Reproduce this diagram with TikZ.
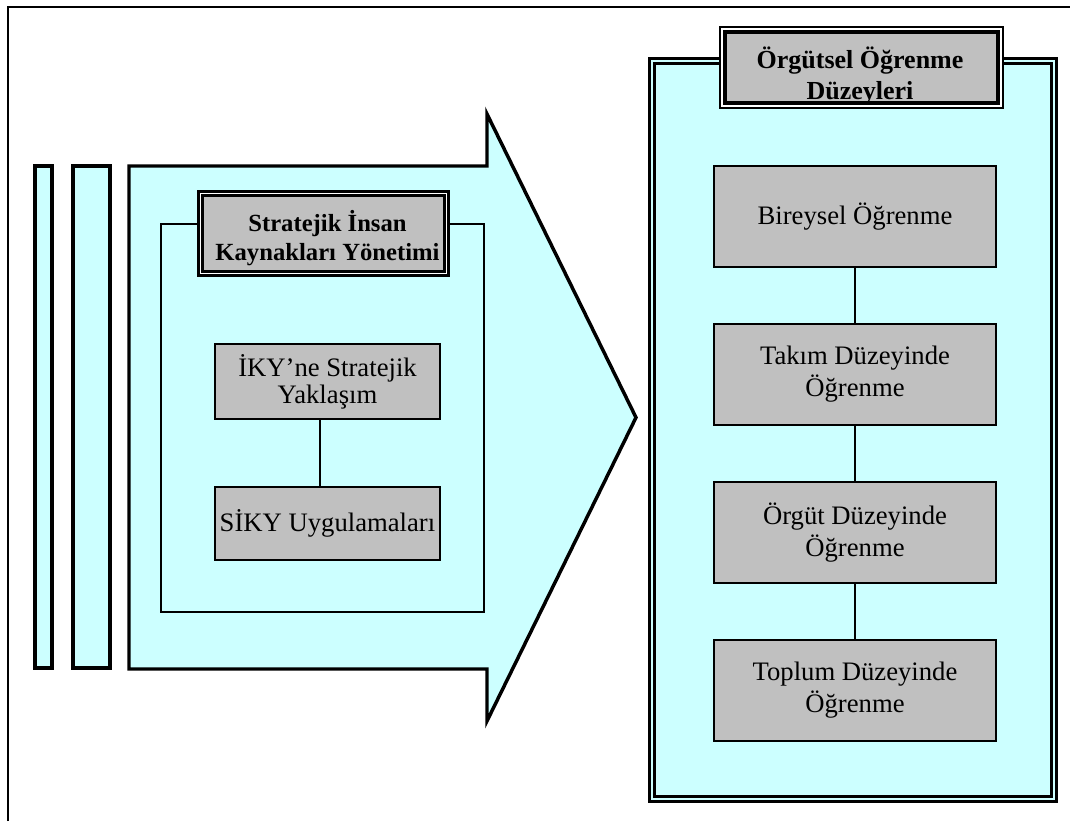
\documentclass[tikz,border=0pt]{standalone}
\usepackage{fontspec}
\setmainfont{Liberation Serif}
\definecolor{aqua}{HTML}{CCFFFF}
\definecolor{silver}{HTML}{C0C0C0}
\begin{document}
\begin{tikzpicture}[x=0.75pt,y=-0.75pt,
  bar/.style={draw,line width=3pt,fill=aqua},
  bigarrow/.style={draw,line width=2.6pt,fill=aqua,line join=miter},
  group/.style={draw,line width=1.5pt},
  greybox/.style={draw,line width=1.5pt,fill=silver,inner sep=0pt,align=center},
  lefttext/.style={font=\fontsize{20}{20.5}\selectfont},
  righttext/.style={font=\fontsize{20}{24}\selectfont},
  titlebox/.style={draw,line width=1.9pt,double=white,double distance=1.2pt,fill=silver,inner sep=0pt},
  titleedge/.style={line width=1.9pt,double=white,double distance=1.2pt},
  titletext/.style={align=center,inner sep=0pt},
  link/.style={line width=1.5pt},
]
\useasboundingbox (0,0) rectangle (1070,821);

% page frame, left and top edges
\draw[line width=1.5pt] (8,821) -- (8,7) -- (1070,7);

% bars and the large arrow
\path[bar] (35,166) rectangle (52,668);
\path[bar] (73,166) rectangle (110,668);
\path[bigarrow] (129,166) -- (487,166) -- (487,114) -- (636,417.5)
  -- (487,721) -- (487,669) -- (129,669) -- cycle;

% strategic HRM group
\draw[group] (161,224) rectangle (484,612);
\node[titlebox,minimum width=184.5pt,minimum height=60pt] (shrm) at (323.5,233.5) {};
\node[titletext,font=\bfseries\fontsize{18.5}{22}\selectfont] (shrmtext) at (327.5,238)
  {Stratejik İnsan\\Kaynakları Yönetimi};

\node[greybox,lefttext,minimum width=168.75pt,minimum height=56.25pt] (approach) at (327.5,381.5)
  {İKY’ne Stratejik\\Yaklaşım};
\node[greybox,lefttext,minimum width=168.75pt,minimum height=54.75pt] (practice) at (327.5,523.5)
  {SİKY Uygulamaları};
\draw[link] ([xshift=-6pt]approach.south) -- ([xshift=-6pt]practice.north);

% organisational learning levels
\path[fill=aqua] (652,61) rectangle (1054,799);
\draw[line width=2pt,double=aqua,double distance=1.5pt] (652,61) rectangle (1054,799);

\node[titlebox,minimum width=207pt,minimum height=55.5pt] (levels) at (861.5,67.5) {};
\node[titletext,font=\bfseries\fontsize{19.5}{23}\selectfont] (levelstext) at (860,76)
  {Örgütsel Öğrenme\\Düzeyleri};
\draw[titleedge] (levels.south west) rectangle (levels.north east);

\node[greybox,righttext,minimum width=211.5pt,minimum height=75.75pt] (individual) at (855,216.5)
  {Bireysel Öğrenme};
\node[greybox,righttext,minimum width=211.5pt,minimum height=75.75pt] (team) at (855,374.5)
  {Takım Düzeyinde\\Öğrenme};
\node[greybox,righttext,minimum width=211.5pt,minimum height=75.75pt] (organisation) at (855,532.5)
  {Örgüt Düzeyinde\\Öğrenme};
\node[greybox,righttext,minimum width=211.5pt,minimum height=75.75pt] (society) at (855,690.5)
  {Toplum Düzeyinde\\Öğrenme};
\draw[link] (individual) -- (team);
\draw[link] (team) -- (organisation);
\draw[link] (organisation) -- (society);
\end{tikzpicture}
\end{document}
